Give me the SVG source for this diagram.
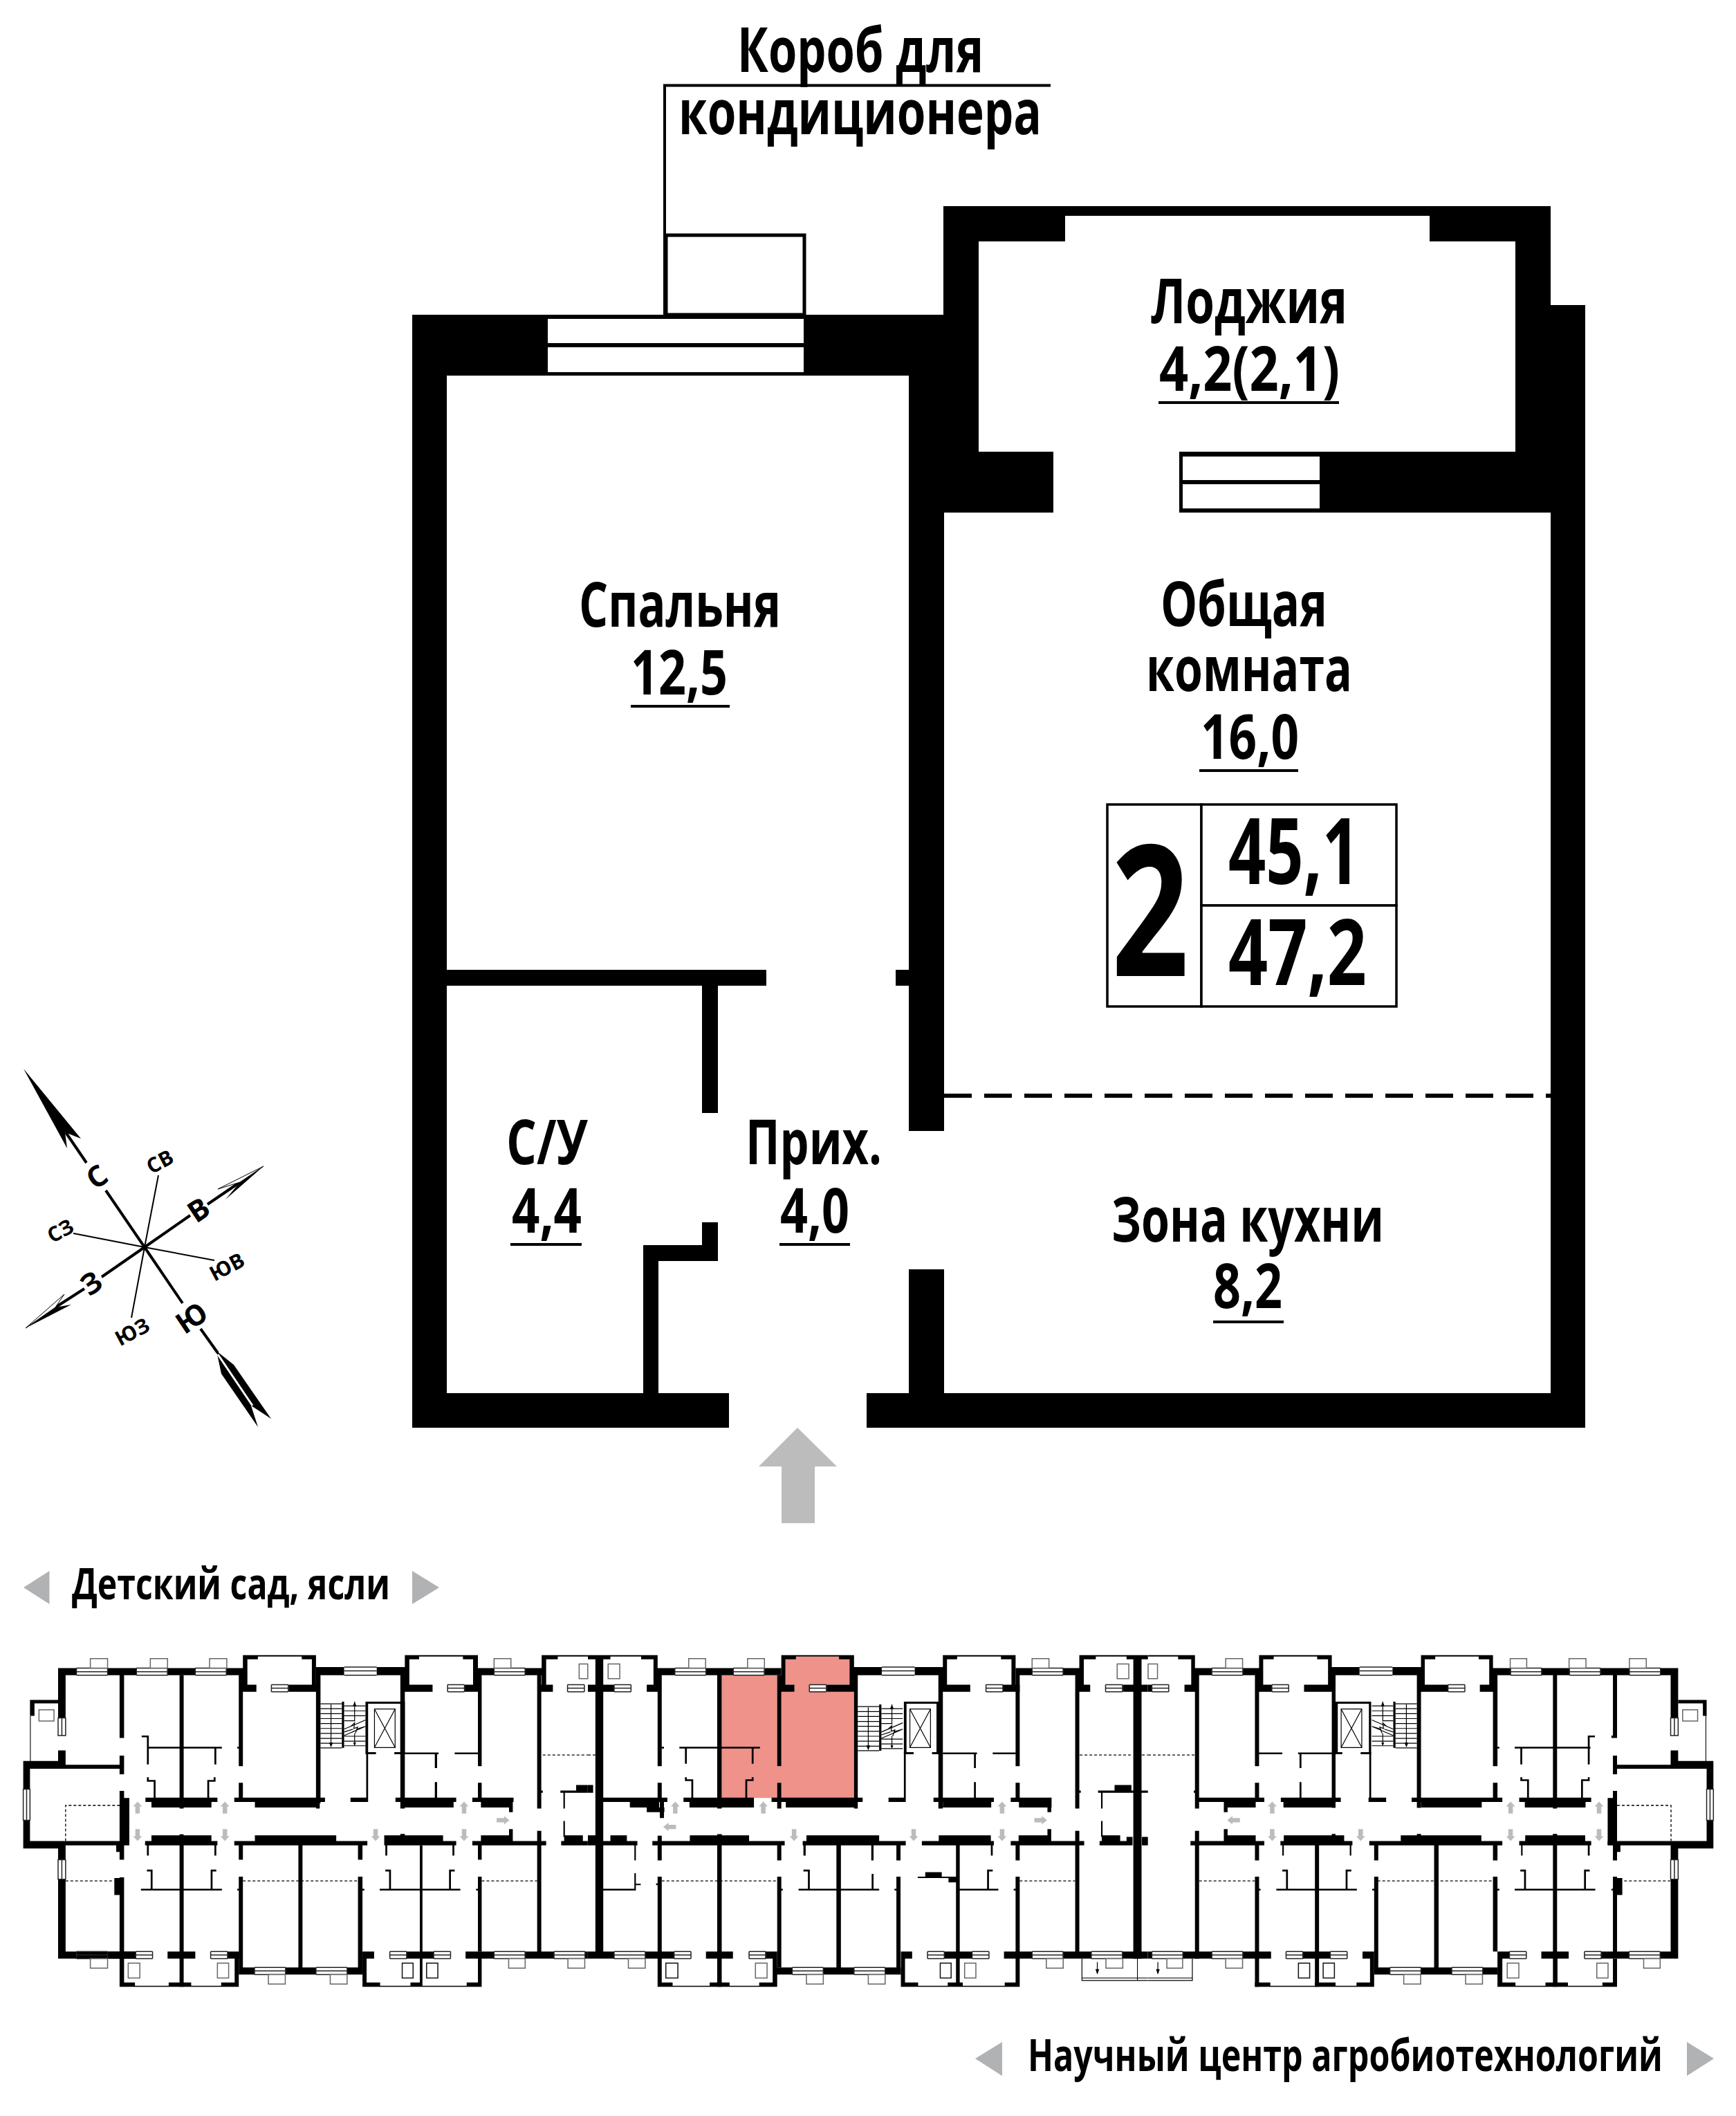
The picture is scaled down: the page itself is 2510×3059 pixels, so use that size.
<svg xmlns="http://www.w3.org/2000/svg" width="2510" height="3059" viewBox="0 0 2510 3059">
<style>
text{font-family:"Open Sans","Noto Sans","Liberation Sans",sans-serif;font-weight:700;fill:#000}
.c{text-anchor:middle}
.w{fill:none;stroke:#222;stroke-width:1.5;vector-effect:non-scaling-stroke}
.t{fill:none;stroke:#000;stroke-width:1.2;vector-effect:non-scaling-stroke}
.b{fill:#fff;stroke:#666;stroke-width:1.5;vector-effect:non-scaling-stroke}
.k{fill:#fff;stroke:#111;stroke-width:1.5;vector-effect:non-scaling-stroke}
.d{fill:none;stroke:#000;stroke-width:1.3;stroke-dasharray:4 3;vector-effect:non-scaling-stroke}
.a{fill:#bcbcbc}
.g{fill:#b0b2b4}
</style>
<defs>
<g id="w83"><path class="w" d="M0 0H83M0 10H83M0 20H83M0 0V20M83 0V20"/></g>
<g id="w45"><path class="w" d="M0 0H45M0 10H45M0 20H45M0 0V20M45 0V20"/></g>
<path id="au" class="a" d="M0-17L12-3H6V17H-6V-3H-12z"/>
<g id="st">
<path class="t" d="M855 398H912M855 412H912M855 426H912M855 440H912M855 454H912M855 468H912M855 482H912M855 496H912M855 510H912M855 523H912M883 400V512"/>
<path d="M883 522L878 508H888z"/>
<path class="t" d="M918 404H975M918 418H975M918 432H975M918 446H945M950 470L975 462M918 478L942 470M918 490H975M918 504H975M918 517H975M946 392V448M946 482V515M918 470L975 444M918 488L975 462M936 462L946 452L944 468L954 464L948 482"/>
<path d="M946 392L941 405H951zM946 517L942 508H950z"/>
<path d="M912 392H918V523H912z"/>
</g>
</defs>

<g id="plan">
<path d="M596 455H1364V298H2242V441H2292V2064H1253V2014H1314V1835H1365V2014H2242V741H1913V653H2191V349H2067V312H1540V349H1415V653H1523V741H1365V1635H1314V1425H1295V1402H1314V543H646V1402H1108V1425H1038V1609H1015V1425H646V2014H930V1800H1015V1767H1038V1823H952V2014H1054V2064H596z"/>
<path d="M792 461H1162V496H792zM792 502H1162V538H792z" fill="#fff"/>
<rect x="963" y="340" width="200" height="115" fill="#fff" stroke="#000" stroke-width="5"/>
<path d="M961 461V123.500H1519" fill="none" stroke="#000" stroke-width="4"/>
<rect x="1705" y="653" width="208" height="88" fill="#000"/>
<path d="M1710 660H1908V694H1710zM1710 700H1908V735H1710z" fill="#fff"/>
<path d="M1365 1584H2242" stroke="#000" stroke-width="6" stroke-dasharray="40 18" fill="none"/>
<path class="a" d="M1153 2064L1210 2120H1178V2202H1130V2120H1097z"/>
<g fill="#fff" stroke="#000" stroke-width="3.500"><rect x="1601" y="1163" width="136" height="292"/><rect x="1737" y="1163" width="282" height="146"/><rect x="1737" y="1309" width="282" height="146"/></g>
</g>
<g id="labels" font-size="90">
<text x="1066" y="104" textLength="356" lengthAdjust="spacingAndGlyphs">Короб для</text>
<text x="981" y="194" textLength="525" lengthAdjust="spacingAndGlyphs">кондиционера</text>
<text x="1664" y="467" textLength="284" lengthAdjust="spacingAndGlyphs">Лоджия</text>
<text x="1676" y="565" textLength="261" lengthAdjust="spacingAndGlyphs">4,2(2,1)</text>
<path d="M1675 582H1936M1734 1114H1877M912 1021H1055M1754 1911H1856M738 1799H841M1127 1799H1229" stroke="#000" stroke-width="4" fill="none"/>
<text x="1678" y="905" textLength="241" lengthAdjust="spacingAndGlyphs">Общая</text>
<text x="1657" y="999" textLength="298" lengthAdjust="spacingAndGlyphs">комната</text>
<text x="1736" y="1097" textLength="142" lengthAdjust="spacingAndGlyphs">16,0</text>
<text x="837" y="906" textLength="292" lengthAdjust="spacingAndGlyphs">Спальня</text>
<text x="912" y="1004" textLength="140" lengthAdjust="spacingAndGlyphs">12,5</text>
<text x="1607" y="1795" textLength="394" lengthAdjust="spacingAndGlyphs">Зона кухни</text>
<text x="1754" y="1891" textLength="100" lengthAdjust="spacingAndGlyphs">8,2</text>
<text x="732" y="1683" textLength="118" lengthAdjust="spacingAndGlyphs">С/У</text>
<text x="740" y="1782" textLength="101" lengthAdjust="spacingAndGlyphs">4,4</text>
<text x="1078" y="1683" textLength="197" lengthAdjust="spacingAndGlyphs">Прих.</text>
<text x="1128" y="1782" textLength="100" lengthAdjust="spacingAndGlyphs">4,0</text>
<text x="1776" y="1278" font-size="132" textLength="190" lengthAdjust="spacingAndGlyphs">45,1</text>
<text x="1776" y="1424" font-size="132" textLength="200" lengthAdjust="spacingAndGlyphs">47,2</text>
<text x="1607" y="1411" font-size="264" textLength="112" lengthAdjust="spacingAndGlyphs">2</text>
<text x="104" y="2312" font-size="62" textLength="460" lengthAdjust="spacingAndGlyphs">Детский сад, ясли</text>
<text x="1486" y="2994" font-size="64" textLength="918" lengthAdjust="spacingAndGlyphs">Научный центр агробиотехнологий</text>
<path class="g" d="M34 2295L71.500 2271V2319zM635 2295L596 2271V2319zM1410 2976L1449 2952V3001zM2478 2976L2439 2952V3001z"/>
</g>

<g id="compass">
<path d="M95 1637L125 1681M153 1721L209 1803L264 1884M290 1921L315 1956M275 1757L209 1803L147 1846M300 1741L347 1709M122 1863L80 1890" stroke="#000" stroke-width="4" fill="none"/>
<path d="M229 1699L209 1803L190 1905M106 1783L209 1803L310 1822" stroke="#000" stroke-width="2" fill="none"/>
<path d="M34 1545L117 1646L94 1637L97 1660z"/>
<path d="M313 1953L338 1973L392 2051L363 2032L373 2063L320 1986z"/>
<path d="M315 1958L365 2032" stroke="#fff" stroke-width="3" fill="none"/>
<path d="M381 1686L347 1709L326 1734z"/>
<path d="M381 1686L315 1719L347 1709z" fill="#fff" stroke="#000" stroke-width="1"/>
<path d="M37 1920L80 1890L103 1886z"/>
<path d="M37 1920L93 1871L80 1890z" fill="#fff" stroke="#000" stroke-width="1"/>
<g font-size="42">
<text class="c" x="140" y="1716" transform="rotate(-34 140 1701)">С</text>
<text class="c" x="287" y="1764" transform="rotate(-34 287 1749)">В</text>
<text class="c" x="132" y="1870" transform="rotate(-34 132 1855)">З</text>
<text class="c" x="277" y="1920" transform="rotate(-34 277 1905)">Ю</text>
</g>
<g font-size="30">
<text class="c" x="231" y="1690" transform="rotate(-28 231 1679)">СВ</text>
<text class="c" x="87" y="1790" transform="rotate(-28 87 1779)">СЗ</text>
<text class="c" x="328" y="1842" transform="rotate(-28 328 1831)">ЮВ</text>
<text class="c" x="191" y="1936" transform="rotate(-28 191 1925)">ЮЗ</text>
</g>
</g>

<g id="building-west" transform="matrix(.54198 0 0 .5102 0 2260)">
<path d="M155 297H204V317H175V438H155zM155 530H175V570H155zM62 560H175V582H62zM62 582H80V640H62zM175 571H325V582H175zM62 728H80V787H319V665H345V799H331V840H319V818H310V799H175V808H62zM155 808H175V840H155zM155 895H175V1120H155zM155 1100H362V1120H155zM319 890H331V1100H319zM305 892H331V940H305zM319 317H331V495H319zM319 545H331V598H319zM319 645H331V800H319zM287 297H364V317H287zM446 297H521V317H446z"/>
<path d="M603 297H660V317H603zM648 260H660V345H648zM648 260H688V272H648zM688 260H805V264H688zM805 260H843V272H805zM832 260H843V345H832zM637 344H684V364H637zM637 297H648V575H637z"/>
<path d="M479 317H490V695H479zM479 768H490V1200H479zM395 520H592V525H395zM392 488H397V570H392zM378 488H397V493H378zM572 525H577V570H572zM633 520H640V525H633zM392 606H397V614H392zM392 614H415V619H392zM410 614H415V665H410zM553 614H575V619H553zM553 619H558V665H553zM570 606H575V616H570zM388 664H580V676H388zM404 676H564V692H404zM404 771H564V787H404zM387 787H580V799H387zM392 799H397V828H392zM572 799H577V828H572zM392 868H407V873H392zM402 868H407V922H402zM376 922H592V927H376zM562 868H567V922H562zM562 868H577V873H562z"/>
<path d="M637 622H648V676H637zM625 664H867V676H625zM680 676H843V692H680zM843 676H853V695H843zM770 344H855V364H770zM843 294H855V680H843zM843 294H918V317H843zM1005 294H1092V317H1005zM1080 260H1092V345H1080zM1080 260H1118V272H1080zM1118 260H1235V264H1118zM1235 260H1275V272H1235zM1262 260H1275V345H1262zM1068 344H1154V364H1068zM1068 317H1080V680H1068zM1240 344H1285V364H1240zM977 535H982V670H977zM935 664H982V676H935zM1068 676H1080V695H1068zM1073 536H1170V541H1073zM1160 541H1166V580H1160zM1160 620H1166V665H1160zM1213 536H1275V541H1213zM1275 317H1285V575H1275zM1275 622H1285V676H1275zM1055 664H1217V676H1055zM1068 676H1210V692H1068zM1260 664H1370V676H1260zM1283 676H1368V692H1283zM1358 676H1368V705H1358zM1275 297H1318V317H1275zM1400 297H1457V317H1400zM1445 260H1457V345H1445zM1445 260H1488V272H1445zM1488 260H1568V264H1488zM1433 344H1475V364H1433zM1433 317H1444V695H1433z"/>
<path d="M680 771H897V787H680zM625 787H980V799H625zM637 799H648V840H637zM637 888H648V1145H637zM796 799H807V1165H796zM955 799H967V840H955zM955 888H967V1165H955zM633 922H640V927H633zM962 922H972V927H962zM637 1145H679V1165H637zM761 1145H843V1165H761zM926 1145H967V1165H926z"/>
<path d="M287 1100H362V1120H287zM447 1100H521V1120H447zM607 1100H638V1120H607zM319 1120H331V1200H319zM319 1188H360V1197H450V1188H510V1197H590V1188H637V1200H319zM626 1120H637V1200H626zM967 1100H998V1120H967zM967 1120H978V1200H967zM967 1188H1014V1197H1095V1188H1127V1197H1245V1188H1285V1200H967zM1084 1100H1157V1120H1084zM1242 1100H1318V1120H1242zM1120 799H1127V1200H1120zM1275 1120H1285V1200H1275z"/>
<path d="M1025 771H1182V787H1025zM1025 787H1217V799H1025zM1068 767H1080V787H1068zM1028 799H1033V828H1028zM1207 799H1212V828H1207zM1028 868H1043V873H1028zM1038 873H1043V922H1038zM1013 922H1228V927H1013zM1198 868H1203V922H1198zM1198 868H1213V873H1198zM1275 799H1285V840H1275zM1275 888H1285V1100H1275zM1270 922H1285V927H1270zM1283 771H1368V787H1283zM1358 753H1368V787H1358zM1260 787H1457V799H1260zM1433 758H1444V1100H1433zM1400 1100H1478V1120H1400zM1560 1100H1568V1120H1560z"/>
<path d="M1503 648H1507V695H1503zM1495 644H1568V650H1495zM1537 628H1568V644H1537zM1503 730H1507V775H1503zM1505 771H1555V787H1505zM1497 787H1568V799H1497zM1440 644H1448V650H1440z"/>
<path d="M80 387H155V397H92V432H80z"/>
<path d="M80 432H82V562H80z"/>
<rect class="b" x="104" y="415" width="40" height="32"/>
<path class="w" d="M155 438H175V488H155zM165 438V488M62 640H80V728H62zM71 640V728M155 840H175V895H155zM165 840V895"/>
<use href="#w83" x="204" y="297"/><use href="#w83" x="364" y="297"/><use href="#w83" x="521" y="297"/>
<path class="w" d="M918 294H1005M918 305H1005M918 317H1005"/>
<use href="#w83" x="1318" y="297"/>
<use href="#w45" x="724" y="344"/><use href="#w45" x="1194" y="344"/><use href="#w45" x="1514" y="344"/>
<use href="#w83" x="204" y="1100"/><use href="#w45" x="362" y="1100"/><use href="#w45" x="562" y="1100"/>
<use href="#w83" x="679" y="1145"/><use href="#w83" x="843" y="1145"/>
<use href="#w45" x="1040" y="1100"/><use href="#w45" x="1157" y="1100"/>
<use href="#w83" x="1318" y="1100"/><use href="#w83" x="1478" y="1100"/>
<rect class="b" x="241" y="270" width="46" height="27"/><rect class="b" x="401" y="270" width="46" height="27"/><rect class="b" x="559" y="270" width="46" height="27"/><rect class="b" x="1318" y="270" width="45" height="27"/><rect class="b" x="241" y="1120" width="46" height="27"/><rect class="b" x="716" y="1165" width="45" height="27"/><rect class="b" x="881" y="1165" width="45" height="27"/><rect class="b" x="1357" y="1120" width="44" height="27"/><rect class="b" x="1515" y="1120" width="45" height="27"/>
<rect class="b" x="342" y="1133" width="31" height="42"/><rect class="b" x="580" y="1133" width="30" height="42"/><rect class="k" x="1073" y="1133" width="29" height="42"/><rect class="k" x="1138" y="1133" width="30" height="42"/><rect class="b" x="1545" y="285" width="23" height="42"/>
<use href="#st"/>
<path d="M975 392H1080V541H1052V535H1068V398H982V535H1003V541H975z"/>
<rect class="t" x="999" y="413" width="55" height="109"/><path class="t" d="M999 413L1054 522M1054 413L999 522"/>
<path class="d" d="M175 787V686H320M175 900H305M648 900H955M1285 900H1433M1448 543H1568"/>
<use href="#au" x="367" y="692"/><use href="#au" x="600" y="692"/><use href="#au" x="1238" y="692"/>
<use href="#au" transform="translate(367 770) rotate(180)"/><use href="#au" transform="translate(600 770) rotate(180)"/><use href="#au" transform="translate(1002 770) rotate(180)"/><use href="#au" transform="translate(1238 770) rotate(180)"/><use href="#au" transform="translate(1342 728) rotate(90)"/>
</g>

<g id="building-centre" transform="matrix(.54198 0 0 .5102 850 2260)">
<path fill="#ee928a" d="M357 317H505V665H357zM505 575H516V622H505zM516 364H710V665H516zM527 264H698V344H527zM551 344H591V364H551z"/>
<path d="M20 262H41V1120H20zM0 260H60V272H0zM60 260H145V264H60zM142 260H186V272H142zM175 260H186V345H175zM0 344H70V364H0zM157 344H197V364H157zM0 644H14V650H0zM0 628H14V644H0zM0 771H20V799H0zM0 1100H70V1120H0zM186 297H232V317H186zM314 297H388V317H314zM470 297H516V317H470zM186 317H197V575H186zM186 622H197V676H186zM197 520H203V525H197zM345 317H357V695H345zM345 768H357V1200H345zM244 520H459V525H244zM259 525H264V568H259zM437 525H442V568H437zM259 606H264V616H259zM259 612H281V617H259zM276 617H281V665H276zM420 612H442V617H420zM420 617H425V665H420zM437 606H442V612H437z"/>
<path d="M505 317H516V575H505zM505 622H516V695H505zM516 260H527V345H516zM516 260H555V272H516zM555 260H670V264H555zM670 260H710V272H670zM698 260H710V345H698zM505 344H551V364H505zM637 344H720V364H637zM40 664H212V676H40zM255 664H443V676H255zM490 664H733V676H490zM112 676H190V692H112zM157 692H204V705H157zM192 676H203V722H192zM271 676H443V692H271zM528 676H710V692H528zM710 676H720V695H710zM710 294H720V680H710zM710 294H784V317H710zM872 294H947V317H872zM947 260H958V345H947zM947 260H985V272H947zM985 260H1102V264H985zM1102 260H1141V272H1102zM1130 260H1141V345H1130zM935 344H1020V364H935zM935 317H947V695H935zM1107 344H1152V364H1107z"/>
<path d="M843 535H848V670H843zM802 664H848V676H802zM947 536H1038V541H947zM1030 541H1035V580H1030zM1030 620H1035V665H1030zM1080 536H1141V541H1080zM1141 317H1152V575H1141zM1141 622H1152V676H1141zM922 664H1083V676H922zM947 676H1076V692H947zM1128 664H1237V676H1128zM1150 676H1237V692H1150zM1226 676H1236V705H1226zM1141 297H1185V317H1141zM1267 297H1323V317H1267zM1311 260H1323V345H1311zM1311 260H1355V272H1311zM1355 260H1437V264H1355zM1437 260H1494V272H1437zM1311 344H1340V364H1311zM1300 317H1311V695H1300zM1311 644H1315V650H1311zM1427 344H1494V364H1427zM1455 262H1477V1120H1455zM1361 644H1494V650H1361zM1405 628H1450V644H1405zM1369 650H1373V695H1369zM1369 730H1373V775H1369zM1371 771H1420V787H1371zM1365 787H1453V799H1365zM1437 775H1453V787H1437zM1478 787H1494V799H1478zM1478 775H1494V787H1478z"/>
<path d="M60 771H104V787H60zM40 787H132V799H40zM124 799H128V842H124zM124 878H128V922H124zM40 922H128V927H40zM128 908H141V912H128zM186 772H197V842H186zM172 787H525V799H172zM272 771H430V787H272zM186 888H197V1120H186zM182 907H186V912H182zM345 768H357V787H345zM505 799H516V842H505zM505 888H516V1145H505zM516 922H520V927H516z"/>
<path d="M153 1100H230V1120H153zM315 1100H387V1120H315zM473 1100H505V1120H473zM186 1120H197V1200H186zM186 1188H226V1197H325V1188H378V1197H457V1188H505V1200H186zM493 1120H505V1200H493zM505 1145H545V1165H505zM628 1145H710V1165H628zM793 1145H835V1165H793zM663 799H675V1165H663zM583 771H777V787H583zM573 787H848V799H573zM575 799H581V828H575zM756 799H762V842H756zM823 799H834V842H823zM823 888H834V1145H823zM818 922H823V927H818zM575 868H592V873H575zM587 873H592V922H587zM562 922H777V927H562zM757 880H762V922H757z"/>
<path d="M900 875H944V888H900zM880 888H982V892H880zM962 892H982V904H962zM982 799H992V1200H982zM936 771H1075V787H936zM891 787H1083V799H891zM1075 799H1080V828H1075zM1065 873H1070V922H1065zM1065 868H1080V873H1065zM992 922H1095V927H992zM835 1100H846V1200H835zM835 1100H865V1120H835zM950 1100H1025V1120H950zM1110 1100H1185V1120H1110zM1267 1100H1343V1120H1267zM1426 1100H1494V1120H1426zM835 1188H881V1197H960V1188H1000V1197H1112V1188H1152V1200H835zM1141 1120H1152V1200H1141zM1141 799H1152V842H1141zM1141 888H1152V1100H1141zM1136 922H1141V927H1136zM1149 771H1226V787H1149zM1226 753H1236V787H1226zM1128 787H1324V799H1128zM1300 758H1311V1100H1300zM1465 1120H1467V1182H1465z"/>
<use href="#w83" x="232" y="297"/><use href="#w83" x="388" y="297"/><path class="w" d="M784 294H872M784 305H872M784 317H872"/><use href="#w83" x="1185" y="297"/>
<use href="#w45" x="70" y="344"/><use href="#w45" x="591" y="344"/><use href="#w45" x="1062" y="344"/><use href="#w45" x="1381" y="344"/>
<use href="#w83" x="70" y="1100"/><use href="#w45" x="230" y="1100"/><use href="#w45" x="430" y="1100"/><use href="#w83" x="545" y="1145"/><use href="#w83" x="710" y="1145"/><use href="#w45" x="906" y="1100"/><use href="#w45" x="1025" y="1100"/><use href="#w83" x="1185" y="1100"/><use href="#w83" x="1343" y="1100"/>
<rect class="b" x="269" y="270" width="45" height="27"/><rect class="b" x="426" y="270" width="45" height="27"/><rect class="b" x="1185" y="270" width="45" height="27"/><rect class="b" x="108" y="1120" width="45" height="27"/><rect class="b" x="583" y="1165" width="45" height="27"/><rect class="b" x="748" y="1165" width="45" height="27"/><rect class="b" x="1223" y="1120" width="45" height="27"/><rect class="b" x="1382" y="1120" width="45" height="27"/>
<rect class="b" x="54" y="285" width="31" height="42"/><rect class="b" x="1412" y="285" width="31" height="42"/><rect class="k" x="208" y="1133" width="32" height="42"/><rect class="b" x="447" y="1133" width="31" height="42"/><rect class="k" x="940" y="1133" width="29" height="42"/><rect class="b" x="1005" y="1133" width="30" height="42"/>
<use href="#st" transform="translate(-135 8)"/>
<path d="M843 392H940V541H918V535H930V398H850V535H869V541H843z"/>
<rect class="t" x="859" y="413" width="55" height="109"/><path class="t" d="M859 413L914 522M914 413L859 522"/>
<path class="t" d="M1318 1120V1182H1494M1318 1175H1494M1359 1130V1162"/>
<path d="M1359 1165L1354 1150H1364z"/>
<path class="d" d="M1312 543H1450M1478 543H1494M0 543H20M197 900H505M1152 900H1300"/>
<use href="#au" x="233" y="692"/><use href="#au" x="468" y="692"/><use href="#au" x="1105" y="692"/>
<use href="#au" transform="translate(218 747) rotate(-90)"/><use href="#au" transform="translate(550 770) rotate(180)"/><use href="#au" transform="translate(869 770) rotate(180)"/><use href="#au" transform="translate(1105 770) rotate(180)"/><use href="#au" transform="translate(1208 728) rotate(90)"/>
</g>

<g id="building-east" transform="matrix(.54198 0 0 .5102 1660 2260)">
<path d="M0 260H80V264H0zM80 260H125V272H80zM115 260H125V345H115zM0 344H10V364H0zM97 344H136V364H97zM125 317H136V695H125zM122 644H125V650H122zM125 297H170V317H125zM252 297H307V317H252zM296 260H307V345H296zM296 260H335V272H296zM335 260H451V264H335zM451 260H490V272H451zM480 260H490V345H480zM285 344H330V364H285zM416 344H500V364H416zM285 317H296V575H285zM285 622H296V676H285zM296 536H358V541H296zM400 536H490V541H400zM404 541H409V580H404zM404 620H409V665H404zM490 294H500V693H490zM136 664H310V676H136zM202 676H212V705H202zM212 676H287V692H212zM354 664H514V676H354zM361 676H490V692H361z"/>
<path d="M490 294H564V317H490zM652 294H728V317H652zM728 260H738V345H728zM728 260H766V272H728zM766 260H882V264H766zM882 260H920V272H882zM910 260H920V345H910zM717 344H800V364H717zM717 294H728V693H717zM885 344H932V364H885zM590 535H595V670H590zM588 664H635V676H588zM920 317H932V575H920zM920 622H932V676H920zM932 520H937V525H932zM920 297H967V317H920zM1049 297H1124V317H1049zM1206 297H1284V317H1206zM1366 297H1414V438H1394V317H1366zM1080 317H1091V695H1080zM1080 768H1091V1200H1080zM1240 317H1251V488H1240zM1236 488H1251V495H1236zM1240 545H1251V598H1240zM1240 645H1251V800H1240zM1226 665H1251V798H1226z"/>
<path d="M978 520H1180V525H978zM993 525H998V570H993zM1173 490H1178V570H1173zM1173 488H1192V493H1173zM993 606H998V616H993zM993 612H1016V617H993zM1011 617H1016V665H1011zM1155 612H1178V617H1155zM1155 617H1160V665H1155zM1173 606H1178V612H1173zM990 664H1182V676H990zM1005 676H1167V692H1005zM703 664H945V676H703zM728 676H890V692H728z"/>
<path d="M1394 530H1414V560H1508V640H1490V582H1245V571H1394zM1414 387H1490V432H1480V397H1414zM1487 432H1489V560H1487zM1490 728H1508V808H1394V799H1226V787H1490zM1394 808H1414V840H1394zM1394 895H1414V1120H1366V1100H1394zM1240 799H1251V842H1240zM1251 798H1260V818H1251zM1240 888H1251V1100H1240zM1240 892H1265V940H1240zM1236 922H1240V927H1236zM1208 1100H1283V1120H1208z"/>
<path d="M125 758H136V1120H125zM113 787H310V799H113zM212 771H287V787H212zM202 753H212V787H202zM285 799H296V842H285zM285 888H296V1200H285zM296 922H300V927H296zM445 799H456V1200H445zM353 787H545V799H353zM362 771H523V787H362zM490 767H500V787H490zM358 799H362V828H358zM538 799H542V828H538zM358 868H373V873H358zM368 873H373V922H368zM342 922H557V927H342zM527 873H532V922H527zM527 868H542V873H527zM590 787H945V799H590zM674 771H889V787H674zM717 767H728V787H717zM603 799H614V842H603zM603 888H614V1145H603zM598 922H603V927H598zM763 799H775V1165H763zM920 799H932V842H920zM920 888H932V1100H920zM932 922H937V927H932zM603 1145H645V1165H603zM727 1145H810V1165H727zM892 1145H932V1165H892zM995 799H999V828H995zM1173 799H1178V828H1173zM993 868H1008V873H993zM1003 873H1008V922H1003zM978 922H1193V927H978zM1163 868H1168V922H1163zM1163 868H1178V873H1163zM990 787H1182V799H990zM1006 771H1166V787H1006zM1080 767H1091V787H1080z"/>
<path d="M0 1100H10V1120H0zM92 1100H170V1120H92zM252 1100H328V1120H252zM412 1100H486V1120H412zM572 1100H603V1120H572zM285 1188H326V1197H445V1188H500V1197H556V1188H603V1200H285zM592 1100H603V1200H592zM932 1100H964V1120H932zM932 1120H945V1200H932zM932 1188H980V1197H1060V1188H1120V1197H1212V1188H1251V1200H932zM1049 1100H1122V1120H1049zM1240 1120H1251V1200H1240zM1085 1120H1092V1200H1085z"/>
<path class="t" d="M0 1175H118M0 1182H118V1120M26 1130V1162"/>
<path d="M26 1165L21 1150H31z"/>
<use href="#w45" x="10" y="344"/><use href="#w45" x="330" y="344"/><use href="#w45" x="800" y="344"/>
<use href="#w83" x="170" y="297"/><use href="#w83" x="967" y="297"/><use href="#w83" x="1124" y="297"/><use href="#w83" x="1284" y="297"/><path class="w" d="M564 294H652M564 305H652M564 317H652"/>
<use href="#w83" x="10" y="1100"/><use href="#w83" x="170" y="1100"/><use href="#w45" x="368" y="1100"/><use href="#w45" x="486" y="1100"/><use href="#w83" x="645" y="1145"/><use href="#w83" x="810" y="1145"/><use href="#w45" x="964" y="1100"/><use href="#w45" x="1164" y="1100"/><use href="#w83" x="1283" y="1100"/>
<path class="w" d="M1394 438H1414V488H1394zM1404 438V488M1490 640H1508V728H1490zM1499 640V728M1394 840H1414V895H1394zM1404 840V895"/>
<rect class="b" x="207" y="270" width="45" height="27"/><rect class="b" x="966" y="270" width="44" height="27"/><rect class="b" x="1123" y="270" width="45" height="27"/><rect class="b" x="1284" y="270" width="45" height="27"/><rect class="b" x="50" y="1120" width="42" height="27"/><rect class="b" x="207" y="1120" width="45" height="27"/><rect class="b" x="682" y="1165" width="45" height="27"/><rect class="b" x="847" y="1165" width="45" height="27"/><rect class="b" x="1322" y="1120" width="44" height="27"/>
<rect class="b" x="0" y="285" width="25" height="42"/><rect class="b" x="1426" y="415" width="40" height="32"/><rect class="k" x="401" y="1133" width="30" height="42"/><rect class="k" x="467" y="1133" width="30" height="42"/><rect class="b" x="958" y="1133" width="31" height="42"/><rect class="b" x="1197" y="1133" width="30" height="42"/>
<use href="#st" transform="matrix(-1 0 0 1 1572 0)"/>
<path d="M500 392H595V541H567V535H589V398H506V535H518V541H500z"/>
<rect class="t" x="515" y="413" width="55" height="109"/><path class="t" d="M515 413L570 522M570 413L515 522"/>
<path class="d" d="M0 543H125M136 900H285M612 900H922M1270 900H1394M1251 686H1395V787"/>
<use href="#au" x="331" y="692"/><use href="#au" x="967" y="692"/><use href="#au" x="1203" y="692"/>
<use href="#au" transform="translate(331 770) rotate(180)"/><use href="#au" transform="translate(567 770) rotate(180)"/><use href="#au" transform="translate(967 770) rotate(180)"/><use href="#au" transform="translate(1203 770) rotate(180)"/><use href="#au" transform="translate(228 728) rotate(-90)"/>
</g>
</svg>
